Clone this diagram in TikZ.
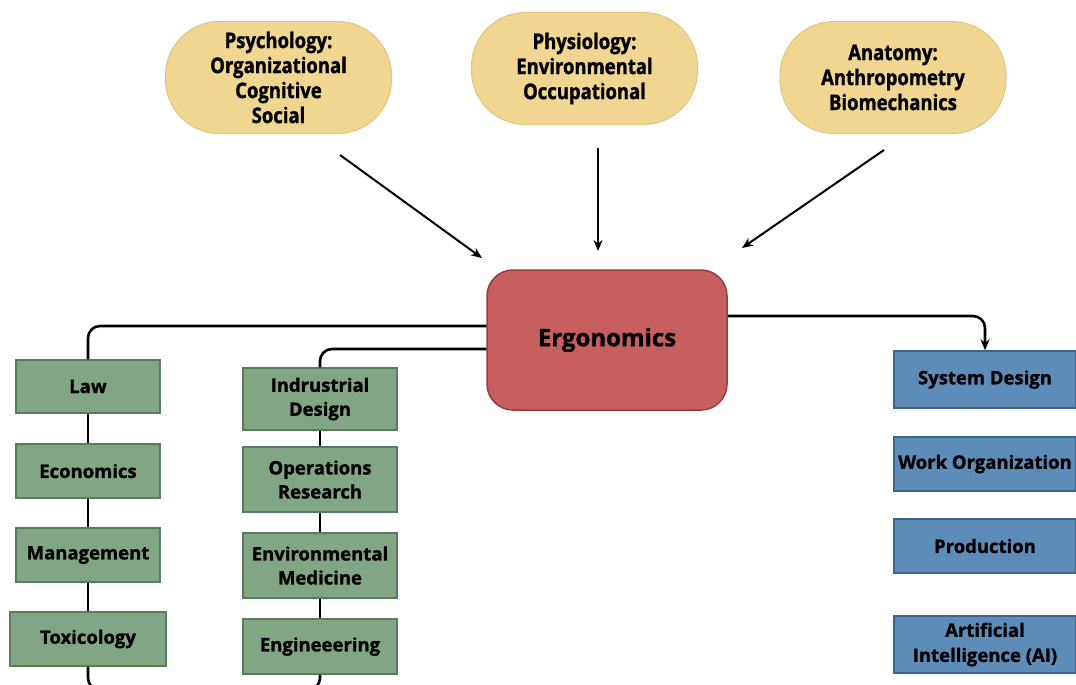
\documentclass[tikz,border=0pt]{standalone}
\usepackage{fontspec}
\setmainfont{Open Sans}[BoldFeatures={FakeBold=1.3}]
\newfontfamily\condfont{Open Sans}[FakeStretch=0.86, BoldFeatures={FakeBold=1.3}]
\usetikzlibrary{arrows.meta,calc}

\definecolor{pillfill}{RGB}{241,214,146}
\definecolor{pillline}{RGB}{225,196,125}
\definecolor{ergofill}{RGB}{200,95,95}
\definecolor{ergoline}{RGB}{150,60,60}
\definecolor{greenfill}{RGB}{128,166,131}
\definecolor{greenline}{RGB}{92,122,96}
\definecolor{bluefill}{RGB}{93,140,185}
\definecolor{blueline}{RGB}{60,100,140}

\tikzset{
  pill/.style={draw=pillline, line width=1pt, fill=pillfill, rounded corners=54pt,
    minimum width=226pt, minimum height=112pt, align=center,
    font=\condfont\bfseries\fontsize{21.5}{25}\selectfont},
  ergobox/.style={draw=ergoline, line width=1.5pt, fill=ergofill, rounded corners=26pt,
    minimum width=240pt, minimum height=140pt, font=\bfseries\fontsize{24}{28}\selectfont},
  greenbox/.style={draw=greenline, line width=1.5pt, fill=greenfill,
    minimum width=144pt, align=center, font=\bfseries\fontsize{18.5}{24}\selectfont},
  bluebox/.style={draw=blueline, line width=1.5pt, fill=bluefill,
    minimum width=182pt, align=center, font=\bfseries\fontsize{18.5}{25}\selectfont},
  link/.style={line width=2.6pt, black},
  feed/.style={line width=2pt, black, -{Stealth[length=11pt,width=9pt]}},
}

\begin{document}
\begin{tikzpicture}[x=1pt,y=-1pt]
\useasboundingbox (0,0) rectangle (1076,685);
\clip (0,0) rectangle (1076,685);

% source disciplines
\node[pill] (psy) at (278.5,77.5) {Psychology:\\Organizational\\Cognitive\\Social};
\node[pill] (phy) at (584.5,68.5) {Physiology:\\Environmental\\Occupational};
\node[pill] (ana) at (893,77.5) {Anatomy:\\Anthropometry\\Biomechanics};

\coordinate (psyA) at (340,155);
\coordinate (psyB) at (482,258);
\coordinate (phyA) at (598,148);
\coordinate (phyB) at (598,251);
\coordinate (anaA) at (884,150);
\coordinate (anaB) at (742,248);
\draw[feed] (psyA) -- (psyB);
\draw[feed] (phyA) -- (phyB);
\draw[feed] (anaA) -- (anaB);

% central node
\node[ergobox] (ergo) at (607,340) {Ergonomics};

% left column
\node[greenbox, minimum height=53pt] (law) at (88,386.5) {Law};
\node[greenbox, minimum height=54pt] (econ) at (88,471) {Economics};
\node[greenbox, minimum height=54pt] (mgmt) at (88,555) {Management};
\node[greenbox, minimum height=54pt, minimum width=156pt] (tox) at (88,639) {Toxicology};

% second column
\node[greenbox, minimum height=62pt, minimum width=154pt] (indus) at (320,399) {Indrustrial\\Design};
\node[greenbox, minimum height=65pt, minimum width=154pt] (ops) at (320,479.5) {Operations\\Research};
\node[greenbox, minimum height=65pt, minimum width=154pt] (env) at (320,565.5) {Environmental\\Medicine};
\node[greenbox, minimum height=55pt, minimum width=154pt] (eng) at (320,646.5) {Engineeering};

% right column
\node[bluebox, minimum height=57pt] (sysd) at (985,379.5) {System Design};
\node[bluebox, minimum height=54pt] (work) at (985,464) {Work Organization};
\node[bluebox, minimum height=54pt] (prod) at (985,546) {Production};
\node[bluebox, minimum height=57pt] (ai) at (985,644.5) {Artificial\\Intelligence (AI)};

% connectors
\draw[link, rounded corners=12pt] ($(ergo.west)+(0,-14)$) -| (law.north);
\draw[link, rounded corners=12pt] ($(ergo.west)+(0,9)$) -| (indus.north);
\draw[link] (law) -- (econ) (econ) -- (mgmt) (mgmt) -- (tox);
\draw[link] (indus) -- (ops) (ops) -- (env) (env) -- (eng);
\coordinate (botL) at (88,690);
\coordinate (botR) at (320,690);
\draw[link, rounded corners=12pt] (tox.south) -- (botL) -- (botR) -- (eng.south);
\draw[link, rounded corners=12pt, -{Stealth[length=11pt,width=9pt]}]
  ($(ergo.east)+(0,-24)$) -| (sysd.north);
\end{tikzpicture}
\end{document}
